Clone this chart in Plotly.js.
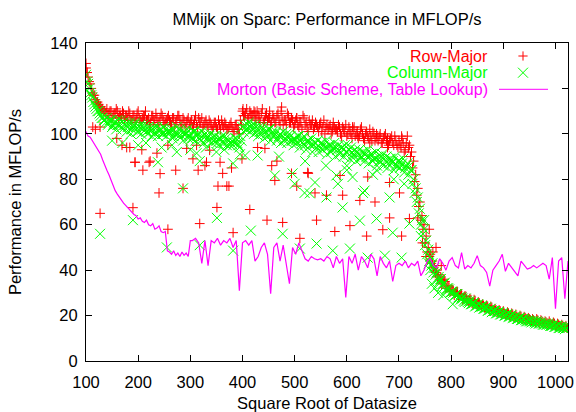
<!DOCTYPE html>
<html>
<head>
<meta charset="utf-8">
<script src="https://cdn.plot.ly/plotly-3.0.1.min.js"></script>
<style>
  html, body { margin: 0; padding: 0; background: #ffffff; }
  #chart { width: 576px; height: 412px; }
</style>
</head>
<body>
<div id="chart"></div>
<script>
// Problem sizes (square root of datasize): two interleaved sweeps,
// 100..1024 every 4 and 102..1022 every 4
const sweepA = { start: 100, step: 4 };
const sweepB = { start: 102, step: 4 };

// Row-major MFLOP/s, sweep A
const rowY = [
  129, 125, 122, 118, 117, 114, 113, 112, 111, 110,
  111, 109, 110, 108, 109, 110, 108, 107, 109, 108,
  107, 109, 106, 108, 107, 110, 106, 107, 108, 106,
  107, 105, 108, 106, 107, 105, 109, 106, 105, 107,
  106, 104, 107, 105, 108, 106, 104, 106, 105, 107,
  105, 103, 106, 104, 107, 105, 103, 105, 104, 106,
  104, 103, 105, 102, 104, 106, 103, 104, 102, 104,
  103, 101, 104, 102, 106, 110, 108, 111, 107, 109,
  108, 106, 110, 107, 109, 105, 108, 106, 110, 105,
  107, 105, 109, 104, 107, 106, 104, 108, 105, 106,
  104, 107, 103, 105, 108, 104, 103, 106, 104, 102,
  105, 103, 104, 101, 106, 103, 102, 104, 101, 103,
  102, 104, 100, 103, 101, 99, 103, 100, 102, 99,
  101, 99, 103, 98, 100, 99, 102, 97, 100, 98,
  97, 100, 96, 99, 97, 95, 98, 96, 99, 95,
  97, 94, 96, 93, 99, 95, 92, 88, 82, 76,
  70, 64, 60, 55, 50, 47, 44, 42, 40, 38,
  37, 35.5, 35, 33, 32.5, 31.5, 31, 30, 30.5, 29,
  29.5, 27.5, 28.5, 26.5, 27.5, 25.5, 27, 25, 26, 24.5,
  25, 23.5, 24.5, 23, 24, 22.5, 23, 21.5, 22.5, 21,
  22, 20.5, 21.5, 20, 21, 19.5, 20.5, 19, 20, 18.5,
  19.5, 18.5, 19, 18, 18.5, 17.5, 18.5, 17, 18, 17,
  17.5, 16.5, 17.5, 16, 17, 15.5, 16.5, 15.5, 16, 15,
  15.5, 14.5
];

// Row-major MFLOP/s, sweep B
const rowY2 = [
  127, 123, 120, 117, 115, 114, 112, 111, 110, 109,
  108, 110, 107, 109, 111, 107, 108, 110, 106, 108,
  110, 106, 108, 105, 109, 107, 105, 108, 110, 106,
  104, 108, 106, 109, 104, 107, 108, 104, 106, 108,
  105, 107, 103, 106, 108, 104, 107, 103, 106, 104,
  106, 104, 108, 103, 105, 107, 104, 106, 103, 105,
  102, 105, 103, 106, 102, 104, 105, 102, 103, 105,
  101, 104, 102, 100, 104, 108, 109, 107, 110, 108,
  110, 107, 108, 105, 111, 106, 109, 107, 104, 108,
  105, 108, 106, 110, 104, 106, 109, 105, 107, 103,
  106, 104, 105, 102, 107, 105, 101, 104, 106, 103,
  104, 101, 105, 103, 100, 104, 103, 100, 105, 102,
  101, 103, 99, 102, 104, 100, 101, 98, 103, 100,
  98, 102, 100, 97, 101, 98, 99, 101, 97, 99,
  99, 96, 98, 100, 94, 97, 99, 95, 97, 94,
  95, 98, 92, 96, 94, 90, 85, 79, 73, 68,
  62, 58, 52, 48, 46, 43, 41, 39, 37, 36,
  34, 36, 32, 33, 30.5, 31.5, 29, 30.5, 28.5, 29.5,
  27, 28.5, 27, 26, 27, 25, 26.5, 24.5, 25.5, 24,
  24.5, 23.5, 24, 22.5, 23.5, 22, 22.5, 21.5, 22, 21,
  21, 20.5, 21, 19.5, 20.5, 19.5, 19.5, 19, 19.5, 18.5,
  19, 18, 18.5, 17.5, 18, 17, 18, 17, 17.5, 16.5,
  17, 16.5, 16.5, 16, 16.5, 15.5, 16, 15, 15.5, 15,
  14.5
];

// Column-major MFLOP/s, sweep A
const colY = [
  126, 122, 118, 116, 113, 111, 110, 108, 107, 106,
  107, 105, 106, 104, 105, 106, 104, 103, 105, 104,
  103, 105, 102, 104, 103, 101, 104, 102, 103, 101,
  103, 101, 102, 100, 103, 101, 102, 100, 102, 101,
  100, 102, 99, 101, 100, 102, 99, 101, 100, 98,
  100, 98, 101, 99, 100, 97, 99, 100, 98, 99,
  98, 97, 99, 96, 98, 99, 96, 98, 97, 95,
  97, 96, 98, 95, 99, 103, 104, 102, 105, 103,
  102, 104, 101, 103, 100, 102, 101, 99, 102, 100,
  99, 101, 98, 100, 99, 97, 100, 98, 99, 97,
  98, 96, 99, 97, 98, 95, 97, 96, 98, 95,
  96, 97, 94, 96, 95, 97, 94, 95, 93, 96,
  94, 95, 92, 94, 95, 92, 93, 94, 91, 93,
  92, 93, 90, 92, 91, 93, 90, 91, 89, 92,
  90, 88, 91, 89, 90, 87, 89, 88, 90, 86,
  88, 86, 89, 85, 87, 86, 84, 80, 76, 72,
  67, 62, 58, 53, 49, 46, 43, 41, 39, 37,
  36, 34, 34.5, 32, 31.5, 30.5, 30, 29, 29.5, 28,
  28, 26.5, 27.5, 26, 26.5, 25, 25.5, 24.5, 25, 24,
  24, 23, 23.5, 22.5, 23, 22, 22, 21, 21.5, 20.5,
  21, 20, 20.5, 19.5, 20, 19, 19.5, 18.5, 19, 18,
  18.5, 17.5, 18, 17.5, 17.5, 17, 17.5, 16.5, 17, 16,
  16.5, 16, 16, 15.5, 16, 15, 15.5, 14.5, 15, 14.5,
  14.5, 15
];

// Column-major MFLOP/s, sweep B
const colY2 = [
  123, 120, 117, 114, 112, 110, 109, 107, 106, 105,
  104, 106, 103, 105, 102, 104, 106, 102, 104, 101,
  104, 100, 103, 105, 101, 103, 100, 104, 102, 100,
  102, 99, 103, 101, 99, 102, 100, 103, 99, 101,
  101, 98, 100, 103, 99, 101, 97, 100, 102, 99,
  98, 101, 97, 100, 98, 101, 96, 99, 97, 100,
  96, 99, 97, 95, 98, 96, 99, 95, 97, 96,
  95, 98, 96, 94, 97, 101, 102, 104, 101, 104,
  100, 103, 99, 101, 103, 98, 100, 102, 97, 101,
  100, 97, 99, 96, 101, 98, 96, 100, 97, 95,
  97, 99, 94, 96, 99, 93, 97, 95, 92, 96,
  94, 92, 96, 93, 94, 91, 95, 92, 94, 90,
  93, 91, 94, 90, 92, 95, 89, 92, 90, 88,
  91, 89, 92, 88, 90, 87, 91, 88, 89, 86,
  88, 90, 86, 88, 85, 89, 87, 84, 86, 88,
  85, 87, 83, 86, 82, 84, 78, 74, 70, 65,
  60, 56, 51, 47, 44, 42, 39, 38, 36, 35,
  33, 34, 31, 32, 30, 30.5, 28.5, 29.5, 28, 27,
  27.5, 26, 26.5, 25.5, 25, 25.5, 24, 24.5, 23.5, 24,
  23, 23.5, 22, 22.5, 21.5, 22, 21, 21.5, 20.5, 21,
  20, 20.5, 19.5, 20, 19, 19.5, 18.5, 19, 18, 18.5,
  18, 17.5, 17.5, 17, 17.5, 16.5, 17, 16.5, 16.5, 16,
  16, 16.5, 15.5, 15.5, 15, 15.5, 14.5, 15, 14.5, 14,
  14.5
];

// Row-major runs that fell away from the main band
const rowExtraX = [100, 102, 113, 118, 127, 159, 169, 178, 184, 194,
  207, 223, 236, 257, 293, 312, 305, 337, 331, 357,
  379, 362, 353, 374, 399, 429, 443, 456, 466, 504,
  525, 539, 401, 424, 475, 452, 504, 548, 573, 611,
  621, 657, 678, 705, 644, 587, 561, 592, 625, 654,
  701, 640, 682, 127, 190, 240, 257, 286, 318, 351,
  382, 414, 447, 477, 510, 542, 577, 606, 638, 669,
  682, 705, 720, 736, 462, 494, 526, 209, 242, 272,
  315, 328, 370, 221, 194, 745, 752, 758, 765, 771, 781];
const rowExtraY = [131, 127, 103, 102, 103, 98, 95, 94, 94, 87.5,
  93, 88, 91.5, 95, 93.6, 95, 89, 92.8, 87.5, 87.5,
  85, 82.6, 77, 77, 89, 94, 93.6, 86, 88, 77,
  83, 74, 111, 109.5, 111.8, 107, 107, 104, 102.5, 103,
  99, 100, 98, 99, 96, 81.7, 73, 73, 70.7, 70,
  74, 81, 78.6, 65, 67.5, 74, 58, 76, 60.5, 67.6,
  56.5, 66.7, 62, 61, 54, 62, 57, 59.6, 55, 57.8,
  63, 55, 62.7, 63, 79.5, 82.6, 82.6, 84, 82.5, 84,
  84, 86, 77, 87.5, 87.5, 52, 46, 58, 48, 50, 42];

// Column-major runs that fell away from the main band
const colExtraX = [127, 190, 255, 286, 318, 351, 382, 416, 477, 510,
  542, 573, 606, 640, 673, 705, 688, 720, 625, 657,
  592, 634, 682, 561, 529, 462, 496, 382, 318, 274,
  238, 312, 405, 429, 500, 519, 539, 580, 611, 631,
  583, 600, 657, 768, 803, 760, 775,
  150, 170, 200, 215, 245, 265, 300, 330, 350, 365,
  395, 470, 520, 560, 600, 650, 690, 710,
  742, 748, 757, 763, 779, 785];
const colExtraY = [56, 62, 50, 76, 51, 63, 48.6, 57.4, 56, 49.5,
  51.7, 48.6, 49.5, 45.5, 46.4, 45.5, 56.5, 60.5, 61.8, 62.7,
  67.6, 75, 72, 72, 73.8, 81.7, 82.6, 87, 88, 92,
  87.5, 91.5, 90.5, 90.5, 78, 74, 78.6, 81.7, 81, 74,
  78, 86, 84, 32, 25, 40, 30,
  97, 96, 95, 96, 94, 95, 93, 94, 92, 93,
  91, 90, 88, 86, 84, 82, 80, 78,
  55, 62, 43, 34, 36, 29];

// Morton layout: sizes 100..300 every 4, then 304..1024 every 6
const mortonStartA = 100, mortonStepA = 4;
const mortonYA = [
  101, 99, 98.5, 97, 95.5, 94, 92.5, 91, 88.5, 86,
  84, 82, 79.5, 77, 75, 73.5, 72, 70.5, 69.5, 68.5,
  67.5, 66.5, 65.5, 64.5, 64, 62.5, 63, 61.5, 61, 62,
  60, 59.5, 60.5, 58, 58.5, 59.5, 57, 56.5, 57, 48.5,
  48, 47, 48.5, 46.5, 47.5, 46, 48, 46.5, 47.5, 46,
  53
];
const mortonStartB = 304, mortonStepB = 6;
const mortonYB = [
  53, 54, 52, 43, 53, 42, 53, 52, 54, 51,
  53, 52, 54, 50, 53, 31, 52, 53, 51, 53,
  44, 46, 50, 52, 47, 29.6, 50, 52, 44, 51,
  42, 34, 50, 47, 52, 48, 45, 44, 46, 45,
  44.5, 45, 44, 46, 45, 41, 46, 43, 45, 28,
  46, 43, 47, 40, 46, 44, 41, 47, 45, 37.5,
  46, 43, 41, 44, 35, 42, 43, 42, 44, 41,
  43, 42, 44, 37.5, 40, 44, 45, 42, 41, 45,
  43, 40, 44, 45.5, 42, 41, 47.7, 40.5, 42, 41,
  43, 46.4, 42, 41, 39, 33, 40, 42, 44, 47,
  39.5, 43, 41, 39, 37.5, 44, 42, 40.5, 41, 42,
  41, 42, 43, 42, 36, 45.5, 23, 44, 45.5, 27.4,
  44
];

const seriesNames = [
  'Row-Major',
  'Column-Major',
  'Morton (Basic Scheme, Table Lookup)'
];

function gridX(start, step, n) {
  const out = [];
  for (let i = 0; i < n; i++) out.push(start + step * i);
  return out;
}

const xA = gridX(sweepA.start, sweepA.step, rowY.length);
const xB = gridX(sweepB.start, sweepB.step, rowY2.length);
const mortonX = gridX(mortonStartA, mortonStepA, mortonYA.length)
  .concat(gridX(mortonStartB, mortonStepB, mortonYB.length));
const mortonY = mortonYA.concat(mortonYB);

const RED = '#ff0000', GREEN = '#00ff00', MAGENTA = '#ff00ff';
const FONT = 'Liberation Sans, Arial, Helvetica, sans-serif';

const traces = [
  {
    type: 'scatter', mode: 'markers', name: seriesNames[0],
    x: xA.concat(xB, rowExtraX), y: rowY.concat(rowY2, rowExtraY),
    marker: { symbol: 'cross-thin-open', size: 7, color: RED,
              line: { color: RED, width: 1 } },
    showlegend: false, hoverinfo: 'skip'
  },
  {
    type: 'scatter', mode: 'markers', name: seriesNames[1],
    x: xA.concat(xB, colExtraX), y: colY.concat(colY2, colExtraY),
    marker: { symbol: 'x-thin-open', size: 10, color: GREEN,
              line: { color: GREEN, width: 1 } },
    showlegend: false, hoverinfo: 'skip'
  },
  {
    type: 'scatter', mode: 'lines', name: seriesNames[2],
    x: mortonX, y: mortonY,
    line: { color: MAGENTA, width: 1.2 },
    showlegend: false, hoverinfo: 'skip'
  }
];

// plot frame in pixels
const W = 576, H = 412;
const M = { l: 86, r: 8, t: 43, b: 51 };
const plotW = W - M.l - M.r, plotH = H - M.t - M.b;
const px = v => (v - M.l) / plotW;          // pixel column -> paper x
const py = v => (H - M.b - v) / plotH;      // pixel row -> paper y

// key in the top-right corner: right-aligned text, sample to its right
const keyTextRight = 489, keySample = 523;
const keyRows = [56, 72.7, 89.3];
const keyColors = [RED, GREEN, MAGENTA];

const annotations = seriesNames.map((name, i) => ({
  xref: 'paper', yref: 'paper', x: px(keyTextRight), y: py(keyRows[i]),
  xanchor: 'right', yanchor: 'middle', showarrow: false, borderpad: 0,
  text: name, font: { family: FONT, size: 16, color: keyColors[i] }
}));

const seg = (x0, y0, x1, y1, color) => ({
  type: 'line', xref: 'paper', yref: 'paper',
  x0: px(x0), y0: py(y0), x1: px(x1), y1: py(y1),
  line: { color: color, width: 1 }
});
const a = 4.6, d = 5;
const shapes = [
  seg(keySample - a, keyRows[0], keySample + a, keyRows[0], RED),
  seg(keySample, keyRows[0] - a, keySample, keyRows[0] + a, RED),
  seg(keySample - d, keyRows[1] - d, keySample + d, keyRows[1] + d, GREEN),
  seg(keySample - d, keyRows[1] + d, keySample + d, keyRows[1] - d, GREEN),
  seg(499, keyRows[2], 548, keyRows[2], MAGENTA)
];

const axisCommon = {
  showline: true, linecolor: '#000000', linewidth: 1, mirror: 'ticks',
  ticks: 'inside', ticklen: 6, tickwidth: 1, tickcolor: '#000000',
  showgrid: false, zeroline: false, fixedrange: true,
  tickfont: { family: FONT, size: 16.5, color: '#000000' }
};

const layout = {
  width: W, height: H, margin: M,
  paper_bgcolor: '#ffffff', plot_bgcolor: '#ffffff',
  showlegend: false,
  title: {
    text: 'MMijk on Sparc: Performance in MFLOP/s',
    font: { family: FONT, size: 16.5, color: '#000000' },
    xref: 'paper', x: 0.5, xanchor: 'center',
    yref: 'container', y: 1 - 19 / H, yanchor: 'middle'
  },
  xaxis: Object.assign({}, axisCommon, {
    range: [100, 1024], tick0: 100, dtick: 100, ticklabelstandoff: 6,
    title: { text: 'Square Root of Datasize', standoff: 8,
             font: { family: FONT, size: 16.5, color: '#000000' } }
  }),
  yaxis: Object.assign({}, axisCommon, {
    range: [0, 140], tick0: 0, dtick: 20, ticklabelstandoff: 4,
    title: { text: 'Performance in MFLOP/s', standoff: 24,
             font: { family: FONT, size: 16.5, color: '#000000' } }
  }),
  annotations: annotations,
  shapes: shapes
};

Plotly.newPlot('chart', traces, layout, { staticPlot: true, displayModeBar: false });
</script>
</body>
</html>
